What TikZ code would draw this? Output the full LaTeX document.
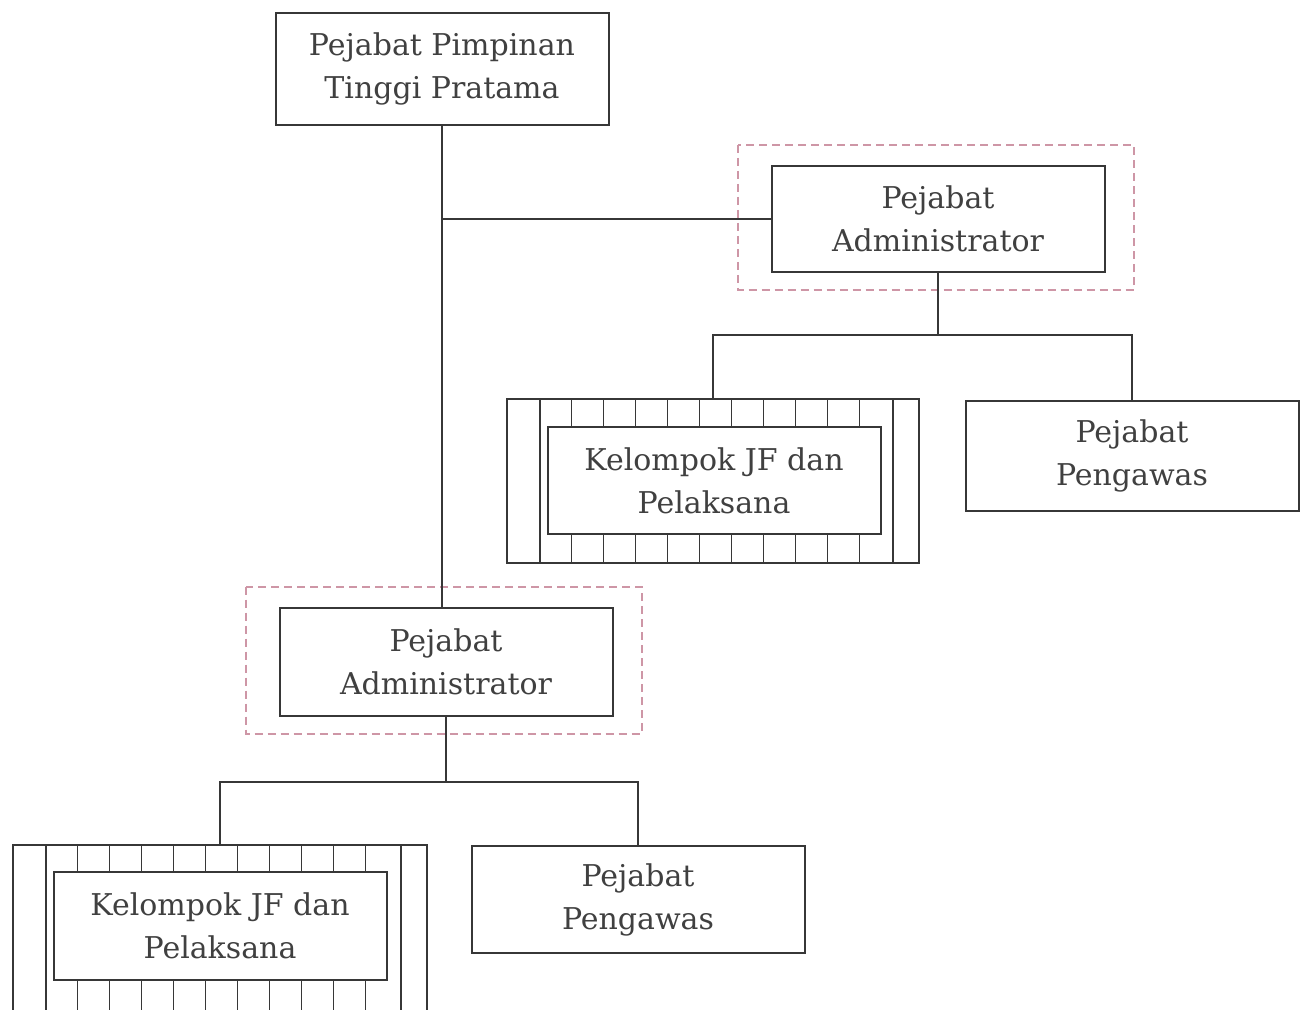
\documentclass[tikz,border=0pt]{standalone}
\usepackage{fontspec}
\setmainfont{DejaVu Serif}
\usetikzlibrary{calc,positioning}
\definecolor{dashpink}{RGB}{206,150,166}
\definecolor{linegray}{RGB}{55,55,55}

\begin{document}
\begin{tikzpicture}[x=0.5pt,y=-0.5pt,line width=1pt,color=linegray,
                    box/.style={draw,rectangle,minimum width=166.5pt,minimum height=54pt,
                                inner sep=0pt,align=center,text=black!75,
                                font=\fontsize{15}{21.5}\selectfont},
                    frame/.style={draw,rectangle,minimum width=206pt,inner sep=0pt},
                    tick/.style={line width=0.6pt},
                    dashbox/.style={draw=dashpink,dash pattern=on 4pt off 2.5pt}]
    \useasboundingbox (0,0) rectangle (1304,1010);
    \clip (0,0) rectangle (1304,1010);
    % boxes
    \node [box,minimum height=56pt] (pimpinan) at (442,69)    {Pejabat Pimpinan\\Tinggi Pratama};
    \node [box,minimum height=53pt] (admA)     at (938,219)   {Pejabat\\Administrator};
    \node [box,minimum height=55pt] (pengA)    at (1132,456)  {Pejabat\\Pengawas};
    \node [frame,minimum height=82pt] (frameA) at (713,481)   {};
    \node [box,minimum height=53.5pt] (kelA)   at (714,480.5) {Kelompok JF dan\\Pelaksana};
    \node [box]                     (admB)     at (446,661.5) {Pejabat\\Administrator};
    \node [frame,minimum width=207pt,minimum height=86pt] (frameB) at (220,931) {};
    \node [box]                     (kelB)     at (220,926)   {Kelompok JF dan\\Pelaksana};
    \node [box,minimum height=53.5pt] (pengB)  at (638,899.5) {Pejabat\\Pengawas};
    % dashed frames
    \foreach \a in {admA,admB}
        \draw [dashbox] ($(\a.north west)+(-33,-20)$) rectangle ($(\a.south east)+(28,17)$);
    % connectors
    \draw (pimpinan.south) -- (pimpinan.south |- admB.north);
    \draw (pimpinan.south |- admA.west) -- (admA.west);
    \draw (admA.south) -- ++(0,62) coordinate (busA);
    \draw (frameA.north) |- (busA) -| (pengA.north);
    \draw (admB.south) -- ++(0,65) coordinate (busB);
    \draw (frameB.north) |- (busB) -| (pengB.north);
    % hatched frames
    \foreach \f/\k in {frameA/kelA,frameB/kelB}{
        \draw ($(\f.north west)+(34,0)$) -- ($(\f.south west)+(34,0)$);
        \draw ($(\f.north east)+(-27,0)$) -- ($(\f.south east)+(-27,0)$);
        \foreach \i in {0,...,9}{
            \draw [tick] ($(\k.north west)+(25+32*\i,0)$) coordinate (t) -- (t |- \f.north);
            \draw [tick] ($(\k.south west)+(25+32*\i,0)$) coordinate (b) -- (b |- \f.south);
        }
    }
\end{tikzpicture}
\end{document}
